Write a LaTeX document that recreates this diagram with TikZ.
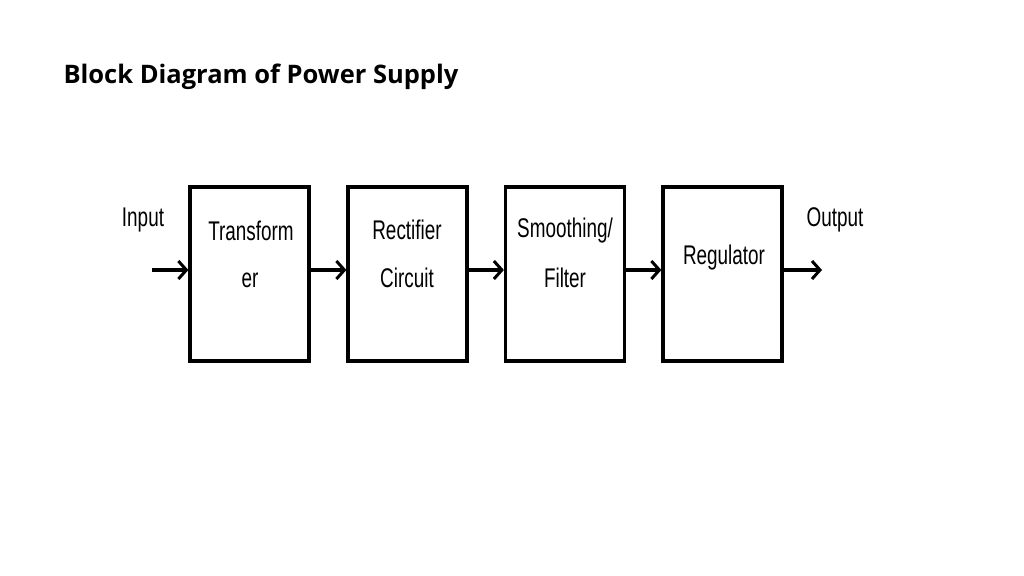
\documentclass[tikz,border=0pt]{standalone}
\usepackage{fontspec}
\setmainfont{Open Sans}
\newfontfamily\narrowf{Liberation Sans}[FakeStretch=0.7]
\usetikzlibrary{arrows.meta}
\begin{document}
\begin{tikzpicture}[x=1pt,y=-1pt,
  blk/.style={draw,line width=3.2pt,minimum width=119pt,minimum height=174pt,inner sep=0pt},
  lbl/.style={font=\narrowf\fontsize{27}{30}\selectfont},
  arr/.style={line width=3.5pt,-{Straight Barb[length=8pt,width=18pt,line width=3pt]}}]
\useasboundingbox (0,0) rectangle (1024,575);
\node[anchor=west,font=\bfseries\fontsize{25.5}{28}\selectfont] (title) at (60,77) {Block Diagram of Power Supply};
\node[blk] (t) at (249.5,274) {};
\node[lbl] (tt) at (251,231) {Transform};
\node[lbl] (te) at (250,280) {er};
\node[blk] (r) at (407.5,274) {};
\node[lbl] (rt) at (407,230) {Rectifier};
\node[lbl] (rc) at (407,278) {Circuit};
\node[blk] (s) at (565,274) {};
\node[lbl] (st) at (565,231) {Smoothing/};
\node[lbl] (sf) at (565,278) {Filter};
\node[blk] (g) at (722.5,274) {};
\node[lbl] (gt) at (724,258) {Regulator};
\node[lbl] (in) at (143,220) {Input};
\node[lbl] (out) at (835,220) {Output};
\coordinate (a0) at (152,270);
\coordinate (a5) at (822,270);
\draw[arr] (a0) -- (a0 -| t.west);
\draw[arr] (t.east |- a0) -- (r.west |- a0);
\draw[arr] (r.east |- a0) -- (s.west |- a0);
\draw[arr] (s.east |- a0) -- (g.west |- a0);
\draw[arr] (g.east |- a0) -- (a5);
\end{tikzpicture}
\end{document}
